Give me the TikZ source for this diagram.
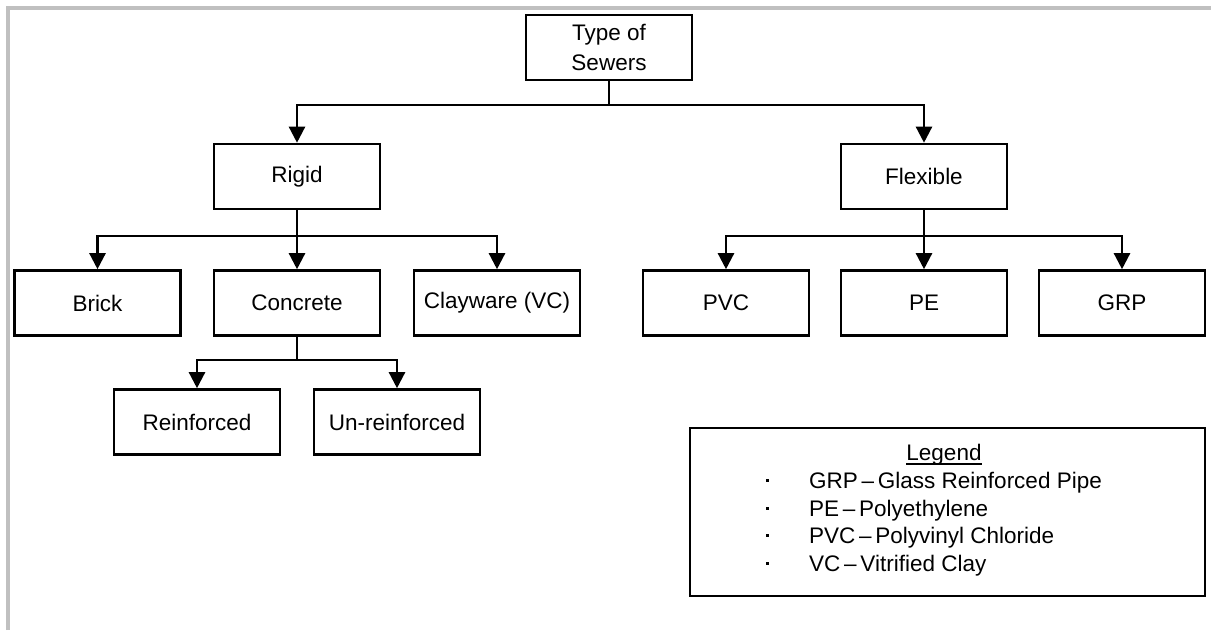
\documentclass[tikz,border=0pt]{standalone}
\usepackage{fontspec}
\setmainfont{Liberation Sans}
\usetikzlibrary{arrows.meta}
\definecolor{framegray}{RGB}{192,192,192}
\begin{document}
\begin{tikzpicture}[x=1pt,y=-1pt,
  txt/.style={font=\fontsize{22.5}{27.5}\selectfont},
  box/.style={txt, draw=black, line width=2.6pt, minimum width=166pt, minimum height=65pt, inner sep=0pt, align=center},
  link/.style={line width=2.4pt},
  arr/.style={link, -{Triangle[length=16pt,width=16pt]}},
  frame/.style={draw=framegray, line width=4pt},
  dot/.style={fill=black, inner sep=0pt, minimum size=3pt},
  ]
\useasboundingbox (0,0) rectangle (1211,630);
\draw[frame] (8,630) -- (8,8) -- (1211,8);

% nodes
\node[box] (type) at (609,47.5) {Type of\\[2pt]Sewers};
\node[box] (rigid) at (297,176.5) {Rigid};
\node[box] (flex) at (924,176.5) {Flexible};
\node[box] (brick) at (97.5,303) {Brick};
\node[box] (concrete) at (297,303) {Concrete};
\node[box] (clay) at (497,303) {Clayware (VC)};
\node[box] (pvc) at (726,303) {PVC};
\node[box] (pe) at (924,303) {PE};
\node[box] (grp) at (1122,303) {GRP};
\node[box] (reinf) at (197,422) {Reinforced};
\node[box] (unreinf) at (397,422) {Un-reinforced};

% connectors
\coordinate (j0) at (609,105);
\coordinate (j1) at (297,236);
\coordinate (j2) at (924,236);
\coordinate (j3) at (297,360);
\draw[link] (type.south) -- (j0);
\draw[arr] (j0) -| (rigid.north);
\draw[arr] (j0) -| (flex.north);
\draw[link] (rigid.south) -- (j1);
\draw[arr] (j1) -| (brick.north);
\draw[arr] (j1) -- (concrete.north);
\draw[arr] (j1) -| (clay.north);
\draw[link] (flex.south) -- (j2);
\draw[arr] (j2) -| (pvc.north);
\draw[arr] (j2) -- (pe.north);
\draw[arr] (j2) -| (grp.north);
\draw[link] (concrete.south) -- (j3);
\draw[arr] (j3) -| (reinf.north);
\draw[arr] (j3) -| (unreinf.north);

% legend
\node[draw=black, line width=2.6pt, minimum width=515pt, minimum height=168pt, inner sep=0pt] (legend) at (947.5,512) {};
\node[txt, inner sep=0pt] (lh) at (944,455) {Legend};
\draw[line width=1.4pt] ([yshift=-3pt]lh.base west) -- ([yshift=-3pt]lh.base east);
\node[dot] (b1) at (767,480.5) {};
\node[dot] (b2) at (767,508) {};
\node[dot] (b3) at (767,535.5) {};
\node[dot] (b4) at (767,563) {};
\node[txt, inner sep=0pt, anchor=west] (l1) at (809,483) {GRP\,–\,Glass Reinforced Pipe};
\node[txt, inner sep=0pt, anchor=west] (l2) at (809,510.5) {PE\,–\,Polyethylene};
\node[txt, inner sep=0pt, anchor=west] (l3) at (809,538) {PVC\,–\,Polyvinyl Chloride};
\node[txt, inner sep=0pt, anchor=west] (l4) at (809,565.5) {VC\,–\,Vitrified Clay};
\end{tikzpicture}
\end{document}
